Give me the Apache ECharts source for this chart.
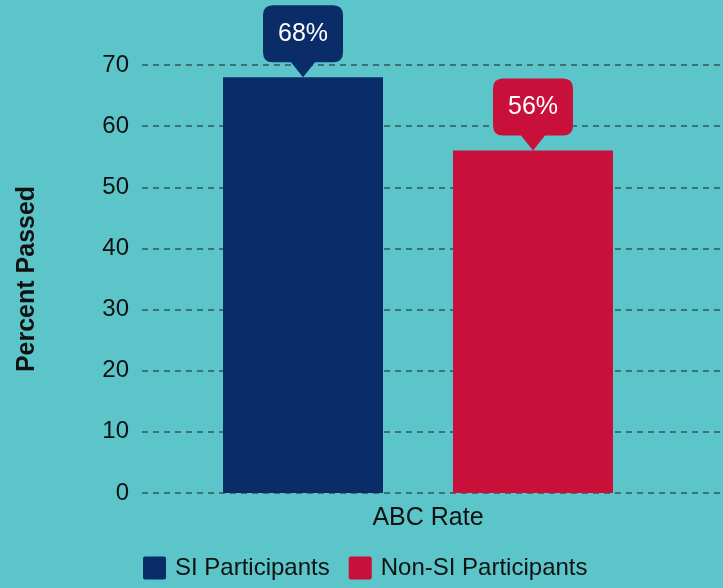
<!DOCTYPE html>
<html>
<head>
<meta charset="utf-8">
<script src="https://cdn.jsdelivr.net/npm/echarts@6/dist/echarts.min.js"></script>
<style>
html,body{margin:0;padding:0;background:#5BC5C9;}
#c{width:723px;height:588px;}
</style>
</head>
<body>
<div id="c"></div>
<script>
var categories = ['ABC Rate'];
var seriesNames = ['SI Participants', 'Non-SI Participants'];
var siValues = [68];
var nonSiValues = [56];
var yTicks = { min: 0, max: 70, interval: 10 };

var FONT = "'Liberation Sans', Arial, sans-serif";
var TEXT = '#111111';
var BLUE = '#0A2C69';
var RED = '#C8103B';
var calloutPath = 'path://M10 0 H70 Q80 0 80 10 V47 Q80 57 70 57 H52 L40 72 L28 57 H10 Q0 57 0 47 V10 Q0 0 10 0 Z';
var legendIcon = 'path://M2 0 H21 Q23 0 23 2 V21 Q23 23 21 23 H2 Q0 23 0 21 V2 Q0 0 2 0 Z';

function callout(color) {
  return {
    symbol: calloutPath,
    symbolSize: [80, 72],
    symbolOffset: [0, '-50%'],
    itemStyle: { color: color },
    label: {
      show: true, position: 'inside', offset: [0, -7],
      color: '#ffffff', fontSize: 25, fontFamily: FONT,
      formatter: function (p) { return p.value + '%'; }
    },
    data: [{ type: 'max' }]
  };
}

var chart = echarts.init(document.getElementById('c'));
chart.setOption({
  backgroundColor: '#5BC5C9',
  animation: false,
  grid: [
    { left: 142, right: 29, top: 65, bottom: 95 },
    { left: 142, right: 0, top: 65, bottom: 95 }
  ],
  legend: {
    bottom: 3, left: 138,
    itemWidth: 23, itemHeight: 23, itemGap: 19,
    icon: legendIcon,
    textStyle: { fontSize: 24, color: TEXT, fontFamily: FONT, padding: [0, 0, 0, 4] },
    data: seriesNames
  },
  xAxis: [
    {
      type: 'category', gridIndex: 0, data: categories,
      axisLine: { show: false }, axisTick: { show: false },
      axisLabel: { fontSize: 25, color: TEXT, fontFamily: FONT, margin: 13, padding: [0, 0, 0, 20] }
    },
    {
      type: 'category', gridIndex: 1, data: categories, show: false
    }
  ],
  yAxis: [
    {
      type: 'value', gridIndex: 0, min: yTicks.min, max: yTicks.max, interval: yTicks.interval,
      axisLine: { show: false }, axisTick: { show: false }, splitLine: { show: false },
      axisLabel: { fontSize: 24, color: TEXT, fontFamily: FONT, margin: 13 },
      name: 'Percent Passed', nameLocation: 'middle', nameRotate: 90, nameGap: 102,
      nameTextStyle: { fontSize: 25, fontWeight: 'bold', color: TEXT, fontFamily: FONT }
    },
    {
      type: 'value', gridIndex: 1, min: yTicks.min, max: yTicks.max, interval: yTicks.interval,
      axisLine: { show: false }, axisTick: { show: false }, axisLabel: { show: false },
      splitLine: { show: true, lineStyle: { color: '#33575A', type: [6, 5], width: 1.5 } }
    }
  ],
  series: [
    {
      name: seriesNames[0], type: 'bar', xAxisIndex: 0, yAxisIndex: 0,
      data: siValues, barWidth: 160, barGap: '43.75%',
      itemStyle: { color: BLUE },
      markPoint: callout(BLUE)
    },
    {
      name: seriesNames[1], type: 'bar', xAxisIndex: 0, yAxisIndex: 0,
      data: nonSiValues, barWidth: 160, barGap: '43.75%',
      itemStyle: { color: RED },
      markPoint: callout(RED)
    }
  ]
});
</script>
</body>
</html>
